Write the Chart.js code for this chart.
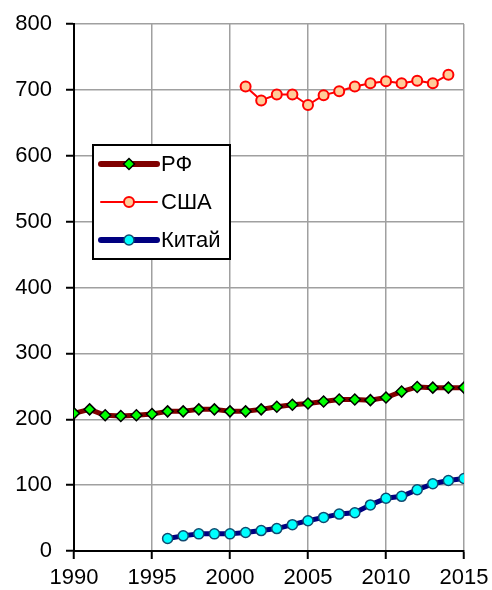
<!DOCTYPE html>
<html lang="ru">
<head>
<meta charset="UTF-8">
<title>РФ, США, Китай</title>
<script src="https://cdn.jsdelivr.net/npm/chart.js"></script>
<style>
    body{margin:0;padding:0;background:#fff;}
    .chart-box{width:492px;height:590px;position:relative;}
</style>
</head>
<body>
<div class="chart-box"><canvas id="lineChart"></canvas></div>
<script>
/* данные */
const yearsRF    = [1990,1991,1992,1993,1994,1995,1996,1997,1998,1999,2000,2001,2002,
                    2003,2004,2005,2006,2007,2008,2009,2010,2011,2012,2013,2014,2015];
const valuesRF   = [209,215,206,205,206,208,212,212,215,215,212,212,215,
                    219,222,224,227,230,230,229,233,242,249,248,248,248];
const yearsUSA   = [2001,2002,2003,2004,2005,2006,2007,2008,2009,2010,2011,2012,2013,2014];
const valuesUSA  = [705,684,693,693,677,692,698,705,710,713,710,714,710,723];
const yearsChina = [1996,1997,1998,1999,2000,2001,2002,2003,2004,2005,
                    2006,2007,2008,2009,2010,2011,2012,2013,2014,2015];
const valuesChina= [19,23,26,26,26,28,31,34,40,46,51,56,58,70,80,83,93,102,107,110];
const seriesNames= ['РФ','США','Китай'];
const xTicks     = [1990,1995,2000,2005,2010,2015];
const yTicks     = [0,100,200,300,400,500,600,700,800];

const pts = (xs,ys)=>xs.map((x,i)=>({x,y:ys[i]}));

const FONT = '"Liberation Sans", Arial, sans-serif';
Chart.defaults.font.family = FONT;
Chart.defaults.color = '#000';

/* легенда в рамке внутри графика */
const boxLegend = {
    id:'boxLegend',
    afterDraw(chart){
        const ctx = chart.ctx;
        ctx.save();
        ctx.fillStyle = '#fff';
        ctx.fillRect(93,145,137,114);
        ctx.strokeStyle = '#000';
        ctx.lineWidth = 2;
        ctx.strokeRect(93,145,137,114);
        chart.data.datasets.forEach((ds,i)=>{
            const y = 164 + i*38;
            ctx.strokeStyle = ds.borderColor;
            ctx.lineWidth = ds.borderWidth + (ds.borderWidth > 3 ? 1 : 0);
            ctx.lineCap = 'round';
            ctx.beginPath();
            ctx.moveTo(101,y);
            ctx.lineTo(157,y);
            ctx.stroke();
            ctx.fillStyle = ds.pointBackgroundColor;
            ctx.strokeStyle = ds.pointBorderColor;
            ctx.lineWidth = ds.pointBorderWidth;
            Chart.helpers.drawPoint(ctx,{pointStyle:ds.pointStyle,rotation:0,
                radius:ds.pointRadius,borderWidth:ds.pointBorderWidth},129,y);
            ctx.fillStyle = '#000';
            ctx.font = '22px ' + FONT;
            ctx.textBaseline = 'middle';
            ctx.textAlign = 'left';
            ctx.fillText(ds.label,161,y+1);
        });
        ctx.restore();
    }
};

new Chart(document.getElementById('lineChart'),{
    type:'line',
    data:{
        datasets:[{
            label:seriesNames[0],
            data:pts(yearsRF,valuesRF),
            borderColor:'#800000',
            borderWidth:5,
            pointStyle:'rectRot',
            pointRadius:5.5,
            pointBackgroundColor:'#00ff00',
            pointBorderColor:'#000',
            pointBorderWidth:1.5
        },{
            label:seriesNames[1],
            data:pts(yearsUSA,valuesUSA),
            borderColor:'#ff0000',
            borderWidth:2,
            pointStyle:'circle',
            pointRadius:5,
            pointBackgroundColor:'#ffcc99',
            pointBorderColor:'#ff0000',
            pointBorderWidth:2
        },{
            label:seriesNames[2],
            data:pts(yearsChina,valuesChina),
            borderColor:'#000080',
            borderWidth:5,
            pointStyle:'circle',
            pointRadius:5,
            pointBackgroundColor:'#00ffff',
            pointBorderColor:'#104a70',
            pointBorderWidth:1.5
        }]
    },
    options:{
        responsive:true,
        maintainAspectRatio:false,
        animation:false,
        layout:{padding:{top:24,right:28,left:0,bottom:0}},
        elements:{line:{tension:0,borderCapStyle:'round',borderJoinStyle:'round'}},
        plugins:{legend:{display:false},tooltip:{enabled:false}},
        scales:{
            x:{
                type:'linear',
                min:1990,max:2015,
                afterBuildTicks:s=>{s.ticks = xTicks.map(v=>({value:v}));},
                afterFit:s=>{s.height = 39; s.paddingLeft = 0; s.paddingRight = 0;},
                grid:{color:'#a0a0a0',lineWidth:1.5,tickColor:'#000',tickLength:8,tickWidth:2},
                border:{color:'#000',width:2},
                ticks:{font:{size:22},color:'#000',padding:6,maxRotation:0,autoSkip:false,
                       callback:v=>String(v)}
            },
            y:{
                min:0,max:800,
                afterBuildTicks:s=>{s.ticks = yTicks.map(v=>({value:v}));},
                afterFit:s=>{s.width = 74; s.paddingTop = 0; s.paddingBottom = 0;},
                grid:{color:'#a0a0a0',lineWidth:1.5,tickColor:'#000',tickLength:8,tickWidth:2},
                border:{color:'#000',width:2},
                ticks:{font:{size:22},color:'#000',padding:14}
            }
        }
    },
    plugins:[boxLegend]
});
</script>
</body>
</html>
